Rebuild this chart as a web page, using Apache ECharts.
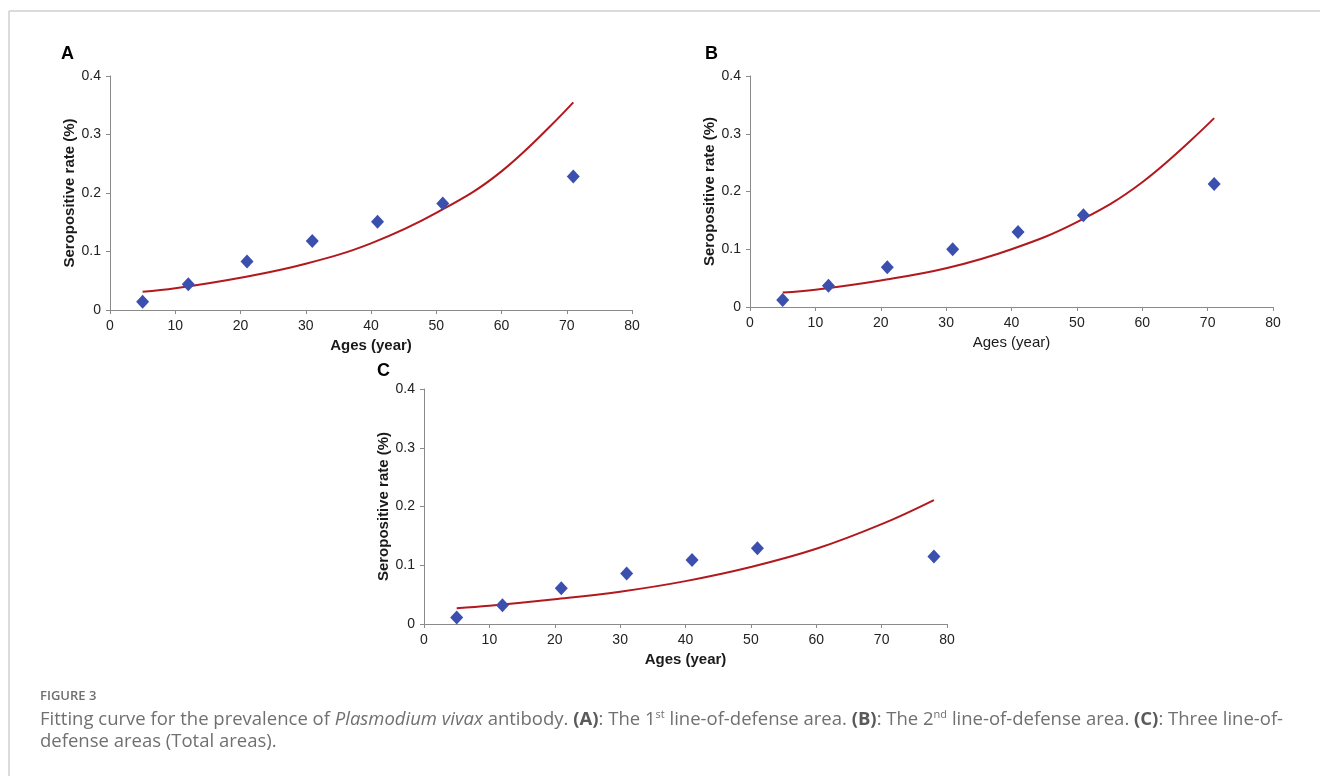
<!DOCTYPE html>
<html>
<head>
<meta charset="utf-8">
<title>Figure 3</title>
<script src="https://cdn.jsdelivr.net/npm/echarts@6/dist/echarts.min.js"></script>
<style>
  html, body { margin: 0; padding: 0; background: #fff; }
  #chart { width: 1320px; height: 776px; }
</style>
</head>
<body>
<div id="chart"></div>
<script>
// observed points (age, seropositive rate)
const agesAB = [5, 12, 21, 31, 41, 51, 71];
const agesC = [5, 12, 21, 31, 41, 51, 78];
const rateA = [0.014, 0.044, 0.083, 0.118, 0.151, 0.182, 0.228];
const rateB = [0.012, 0.037, 0.069, 0.100, 0.130, 0.159, 0.213];
const rateC = [0.011, 0.032, 0.061, 0.086, 0.109, 0.129, 0.115];

// fitted curves
const fitAgesAB = [5, 10, 20, 30, 40, 50, 60, 71];
const fitAgesC = [5, 10, 20, 30, 40, 50, 60, 70, 78];
const fitA = [0.031, 0.037, 0.055, 0.079, 0.114, 0.166, 0.237, 0.355];
const fitB = [0.025, 0.030, 0.046, 0.067, 0.100, 0.147, 0.216, 0.327];
const fitC = [0.027, 0.031, 0.042, 0.055, 0.073, 0.097, 0.128, 0.170, 0.211];

const yTicks = [0, 0.1, 0.2, 0.3, 0.4];
const xTicks = [0, 10, 20, 30, 40, 50, 60, 70, 80];

const FONT = "'Liberation Sans', Arial, sans-serif";
const AXIS_COLOR = "#8a8a8a";
const DOT_COLOR = "#3a4fae";
const LINE_COLOR = "#b2191e";

const zip = (xs, ys) => xs.map((x, i) => [x, ys[i]]);

// panel layout (pixels)
const panels = [
  { left: 110, top: 76, width: 522, height: 234, xNameBold: true },
  { left: 750, top: 76, width: 523, height: 231, xNameBold: false },
  { left: 424, top: 389, width: 523, height: 235, xNameBold: true },
];

const grids = panels.map((p) => ({
  left: p.left, top: p.top, width: p.width, height: p.height,
}));

const xAxes = panels.map((p, i) => ({
  gridIndex: i,
  type: "value",
  min: xTicks[0],
  max: xTicks[xTicks.length - 1],
  interval: 10,
  name: "Ages (year)",
  nameLocation: "middle",
  nameGap: 28,
  nameTextStyle: {
    fontFamily: FONT, fontSize: 15, color: "#1a1a1a",
    fontWeight: p.xNameBold ? "bold" : "normal",
  },
  axisLine: { show: true, lineStyle: { color: AXIS_COLOR, width: 1 } },
  axisTick: { show: true, length: 4, lineStyle: { color: AXIS_COLOR } },
  axisLabel: { fontFamily: FONT, fontSize: 14, color: "#222", margin: 9 },
  splitLine: { show: false },
}));

const yAxes = panels.map((p, i) => ({
  gridIndex: i,
  type: "value",
  min: yTicks[0],
  max: yTicks[yTicks.length - 1],
  interval: 0.1,
  name: "Seropositive rate (%)",
  nameLocation: "middle",
  nameGap: 33,
  nameTextStyle: { fontFamily: FONT, fontSize: 15, fontWeight: "bold", color: "#1a1a1a" },
  axisLine: { show: true, lineStyle: { color: AXIS_COLOR, width: 1 } },
  axisTick: { show: true, length: 4, lineStyle: { color: AXIS_COLOR } },
  axisLabel: {
    fontFamily: FONT, fontSize: 14, color: "#222", margin: 9,
    formatter: (v) => (v === 0 ? "0" : String(+v.toFixed(1))),
  },
  splitLine: { show: false },
}));

const pointSets = [zip(agesAB, rateA), zip(agesAB, rateB), zip(agesC, rateC)];
const fitSets = [zip(fitAgesAB, fitA), zip(fitAgesAB, fitB), zip(fitAgesC, fitC)];

const series = [];
fitSets.forEach((d, i) => {
  series.push({
    type: "line",
    xAxisIndex: i,
    yAxisIndex: i,
    data: d,
    smooth: 0.4,
    showSymbol: false,
    lineStyle: { color: LINE_COLOR, width: 2 },
    z: 2,
  });
});
pointSets.forEach((d, i) => {
  series.push({
    type: "scatter",
    xAxisIndex: i,
    yAxisIndex: i,
    data: d,
    symbol: "diamond",
    symbolSize: [13, 14],
    itemStyle: { color: DOT_COLOR, opacity: 1 },
    z: 3,
  });
});

const panelLetter = (text, x, y) => ({
  type: "text", left: x, top: y,
  style: { text, font: "bold 18px " + FONT, fill: "#000" },
});

const capFont = "'Open Sans', 'Noto Sans', sans-serif";
const CAP_SIZE = 18.5;
const caption = {
  type: "text",
  left: 40,
  top: 709,
  style: {
    text:
      "Fitting curve for the prevalence of {i|Plasmodium vivax} antibody. {b|(A)}: The 1{sup|st} line-of-defense area. {b|(B)}: The 2{sup|nd} line-of-defense area. {b|(C)}: Three line-of-\n" +
      "defense areas (Total areas).",
    fontFamily: capFont,
    fontSize: CAP_SIZE,
    lineHeight: 22,
    fill: "#707070",
    rich: {
      i: { fontFamily: capFont, fontSize: CAP_SIZE, fontStyle: "italic", fill: "#707070", lineHeight: 22 },
      b: { fontFamily: capFont, fontSize: CAP_SIZE, fontWeight: "bold", fill: "#5a5a5a", lineHeight: 22 },
      sup: { fontFamily: capFont, fontSize: 11, fill: "#707070", verticalAlign: "top", lineHeight: 22, padding: [0, 0, 6, 0] },
    },
  },
};

const option = {
  backgroundColor: "#fff",
  animation: false,
  grid: grids,
  xAxis: xAxes,
  yAxis: yAxes,
  series,
  graphic: [
    { type: "line", shape: { x1: 9, y1: 11, x2: 1320, y2: 11 }, style: { stroke: "#cfcfcf", lineWidth: 1.5 } },
    { type: "line", shape: { x1: 9, y1: 11, x2: 9, y2: 776 }, style: { stroke: "#cfcfcf", lineWidth: 1.5 } },
    panelLetter("A", 61, 45),
    panelLetter("B", 705, 45),
    panelLetter("C", 377, 362),
    {
      type: "text", left: 40, top: 690,
      style: { text: "FIGURE 3", font: "600 13px " + capFont, fill: "#707070" },
    },
    caption,
  ],
};

const chart = echarts.init(document.getElementById("chart"), null, { renderer: "canvas" });
chart.setOption(option);
window.addEventListener("resize", () => chart.resize());
</script>
</body>
</html>
